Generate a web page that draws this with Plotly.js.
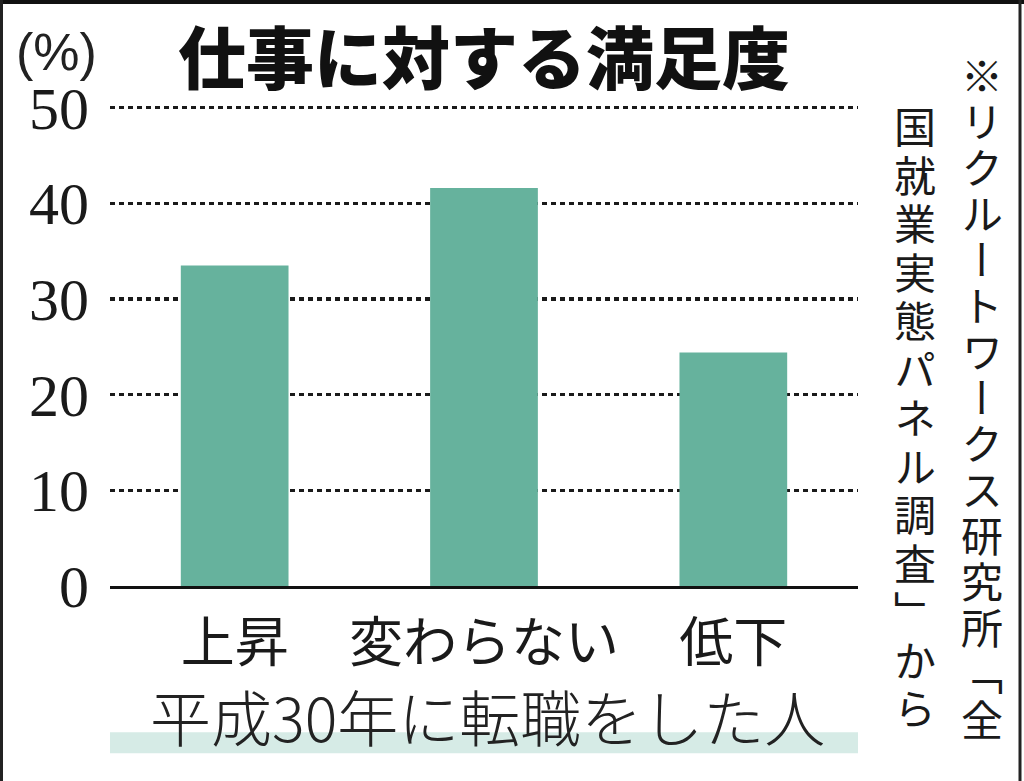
<!DOCTYPE html>
<html>
<head>
<meta charset="utf-8">
<script src="https://cdn.plot.ly/plotly-3.0.1.min.js"></script>
<style>html,body{margin:0;padding:0;background:#fff;}#chart{width:1024px;height:781px;}</style>
</head>
<body>
<div id="chart"></div>
<script>
// ---- data ----
const categories = ["上昇", "変わらない", "低下"];
const values = [33.5, 41.6, 24.4];
const yTicks = [0, 10, 20, 30, 40, 50];
const titleText = "仕事に対する満足度";
const unitText = "(%)";
const subjectText = "平成30年に転職をした人";
const noteCol1 = "※リクルートワークス研究所「全";
const noteCol2 = "国就業実態パネル調査」から";

// ---- layout helpers (pixel -> paper) ----
const W = 1024, H = 781;
const L = 110, R = 858, B = 586;
const Y50 = 108;                 // pixel row of the 50 gridline
const YMAX = 51;                 // axis top so the 50 gridline is drawn
const T = B - (B - Y50) * YMAX / 50;
const px = x => (x - L) / (R - L);
const py = y => (B - y) / (B - T);

// vertical note columns: centre x, top y, character pitch
const noteCols = [
  {text: noteCol1, cx: 982, top: 53, pitch: 46},
  {text: noteCol2, cx: 915, top: 103, pitch: 48.5}
];
const NOTE_FONT = 42;

const annotations = [];
const verticalIdx = {};   // annotation index -> absolute centre {x, y}
noteCols.forEach(c => {
  Array.from(c.text).forEach((ch, i) => {
    const cy = c.top + c.pitch * (i + 0.5);
    verticalIdx[annotations.length] = {x: c.cx, y: cy};
    annotations.push({
      text: ch, xref: "paper", yref: "paper",
      x: px(c.cx), y: py(cy),
      xanchor: "center", yanchor: "middle", showarrow: false,
      font: {family: "Noto Sans CJK JP", size: NOTE_FONT, color: "#1a1a1a"}
    });
  });
});

annotations.push({
  text: titleText, xref: "paper", yref: "paper",
  x: 0.5, y: py(55), xanchor: "center", yanchor: "middle", showarrow: false,
  font: {family: "Noto Sans CJK JP", size: 68, color: "#111", weight: 900}
});
annotations.push({
  text: unitText, xref: "paper", yref: "paper",
  x: px(57), y: py(52), xanchor: "center", yanchor: "middle", showarrow: false,
  font: {family: "Liberation Sans Narrow, Liberation Sans", size: 52, color: "#222"}
});
annotations.push({
  text: subjectText, xref: "paper", yref: "paper",
  x: px(487), y: py(715), xanchor: "center", yanchor: "middle", showarrow: false,
  font: {family: "Noto Sans CJK JP", size: 61, color: "#222", weight: 300}
});

const shapes = [
  {type: "rect", xref: "paper", yref: "paper", x0: 0, x1: 1, y0: py(753), y1: py(732),
   fillcolor: "#d6ebe6", line: {width: 0}, layer: "below"},
  {type: "rect", xref: "paper", yref: "paper", x0: px(0), x1: px(W), y0: py(0), y1: py(4.5),
   fillcolor: "#111", line: {width: 0}, layer: "below"},
  {type: "rect", xref: "paper", yref: "paper", x0: px(0), x1: px(3), y0: py(0), y1: py(H),
   fillcolor: "#222", line: {width: 0}, layer: "below"},
  {type: "rect", xref: "paper", yref: "paper", x0: px(1018.5), x1: px(1021.5), y0: py(0), y1: py(H),
   fillcolor: "#222", line: {width: 0}, layer: "below"}
];

const trace = {
  type: "bar", x: categories, y: values,
  marker: {color: "#66b29d", line: {width: 0}},
  hoverinfo: "skip"
};

const layout = {
  width: W, height: H,
  margin: {l: L, r: W - R, t: T, b: H - B, pad: 0},
  paper_bgcolor: "#ffffff", plot_bgcolor: "rgba(0,0,0,0)",
  showlegend: false,
  bargap: 0.568,
  xaxis: {
    type: "category", range: [-0.5, 2.5], fixedrange: true,
    showgrid: false, zeroline: false,
    showline: true, linecolor: "#111", linewidth: 3, layer: "above traces",
    ticks: "", ticklabelstandoff: 8,
    tickfont: {family: "Noto Sans CJK JP", size: 54, color: "#1a1a1a"}
  },
  yaxis: {
    range: [0, YMAX], fixedrange: true,
    tickvals: yTicks, ticktext: yTicks.map(String),
    showgrid: true, gridcolor: "#1a1a1a", gridwidth: 3.5, griddash: "5px,4px",
    zeroline: false, showline: false, ticks: "",
    ticklabelstandoff: 20,
    tickfont: {family: "Liberation Serif", size: 60, color: "#1a1a1a"}
  },
  annotations: annotations,
  shapes: shapes
};

Plotly.newPlot("chart", [trace], layout, {displayModeBar: false, staticPlot: true}).then(gd => {
  // set the note characters in Japanese vertical writing (proper vertical glyph forms)
  gd.querySelectorAll("g.annotation").forEach(g => {
    const idx = g.getAttribute("data-index");
    const pos = verticalIdx[idx];
    if (!pos) return;
    const t = g.querySelector("text.annotation-text");
    if (!t) return;
    const m = t.parentNode.getCTM();
    t.setAttribute("x", pos.x - m.e);
    t.setAttribute("y", pos.y - m.f);
    t.style.writingMode = "vertical-rl";
    t.setAttribute("text-anchor", "middle");
    t.style.textAnchor = "middle";
  });
});
</script>
</body>
</html>
